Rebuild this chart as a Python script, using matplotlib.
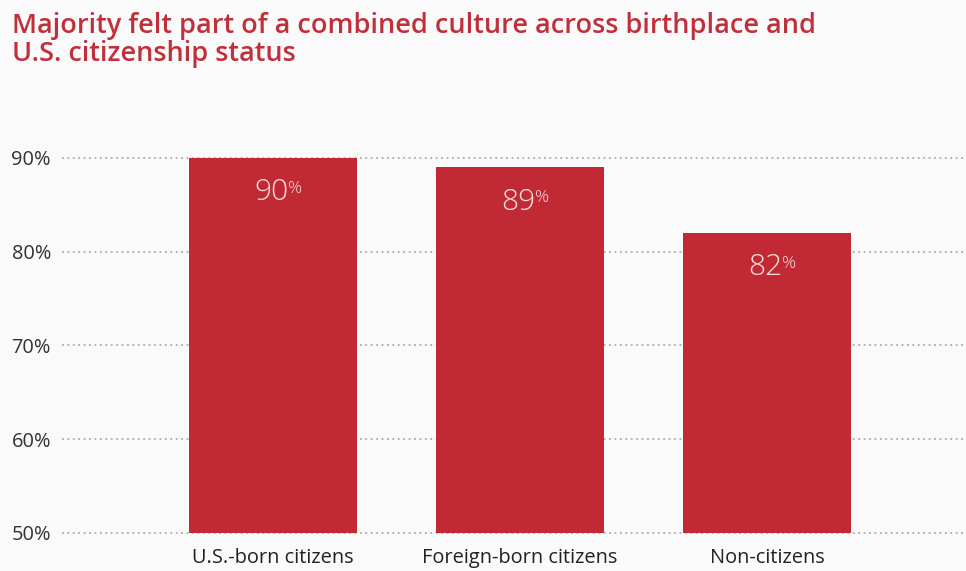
import matplotlib.pyplot as plt

# Share who felt part of a combined culture, by birthplace / citizenship
groups = ['U.S.-born citizens', 'Foreign-born citizens', 'Non-citizens']
shares = [90, 89, 82]
y_ticks = [50, 60, 70, 80, 90]

red = '#c12a35'
plt.rcParams['font.family'] = ['Open Sans', 'DejaVu Sans']

fig = plt.figure(figsize=(9.66, 5.71), dpi=100)
fig.patch.set_facecolor('#fafafa')

# axes box in figure pixels: x 62..966, y 153..533 (from top)
W, H = 966, 571
ax = fig.add_axes([62 / W, 1 - 533 / H, (966 - 62) / W, (533 - 153) / H])
ax.set_facecolor('none')

x = range(len(groups))
ax.bar(x, shares, width=0.68, color=red, zorder=3)
ax.set_ylim(50, 90.5)
ax.set_xlim(-0.854, 2.806)

ax.set_yticks(y_ticks)
ax.set_yticklabels([f'{v}%' for v in y_ticks], fontsize=14.4, color='#333333')
ax.set_xticks(list(x))
ax.set_xticklabels(groups, fontsize=14.4, color='#222222')
ax.tick_params(axis='both', length=0)
ax.tick_params(axis='y', pad=8)
ax.tick_params(axis='x', pad=11)
ax.grid(axis='y', linestyle=(0, (1, 2)), color='#ababab', linewidth=1.3, zorder=1)
# keep the bottom (50%) gridline from being cut in half by the axes edge
for gl in ax.get_ygridlines():
    gl.set_clip_on(False)
for s in ax.spines.values():
    s.set_visible(False)

# value labels inside the bars, with a small raised percent sign
for i, v in enumerate(shares):
    ax.annotate(str(v), (i, v), xytext=(-1, -25), textcoords='offset points',
                ha='center', va='center', fontsize=21.5, fontweight='light',
                color='#f6dede', zorder=4)
    ax.annotate('%', (i, v), xytext=(16, -22.5), textcoords='offset points',
                ha='center', va='center', fontsize=12.5, fontweight='light',
                color='#f6dede', zorder=4)

title_kw = dict(fontsize=19.5, fontweight='semibold', color='#c0303b',
                ha='left', va='baseline')
fig.text(12 / W, 1 - 33 / H,
         'Majority felt part of a combined culture across birthplace and', **title_kw)
fig.text(12 / W, 1 - 61 / H, 'U.S. citizenship status', **title_kw)

fig.savefig('out.png', dpi=100, facecolor=fig.get_facecolor())
